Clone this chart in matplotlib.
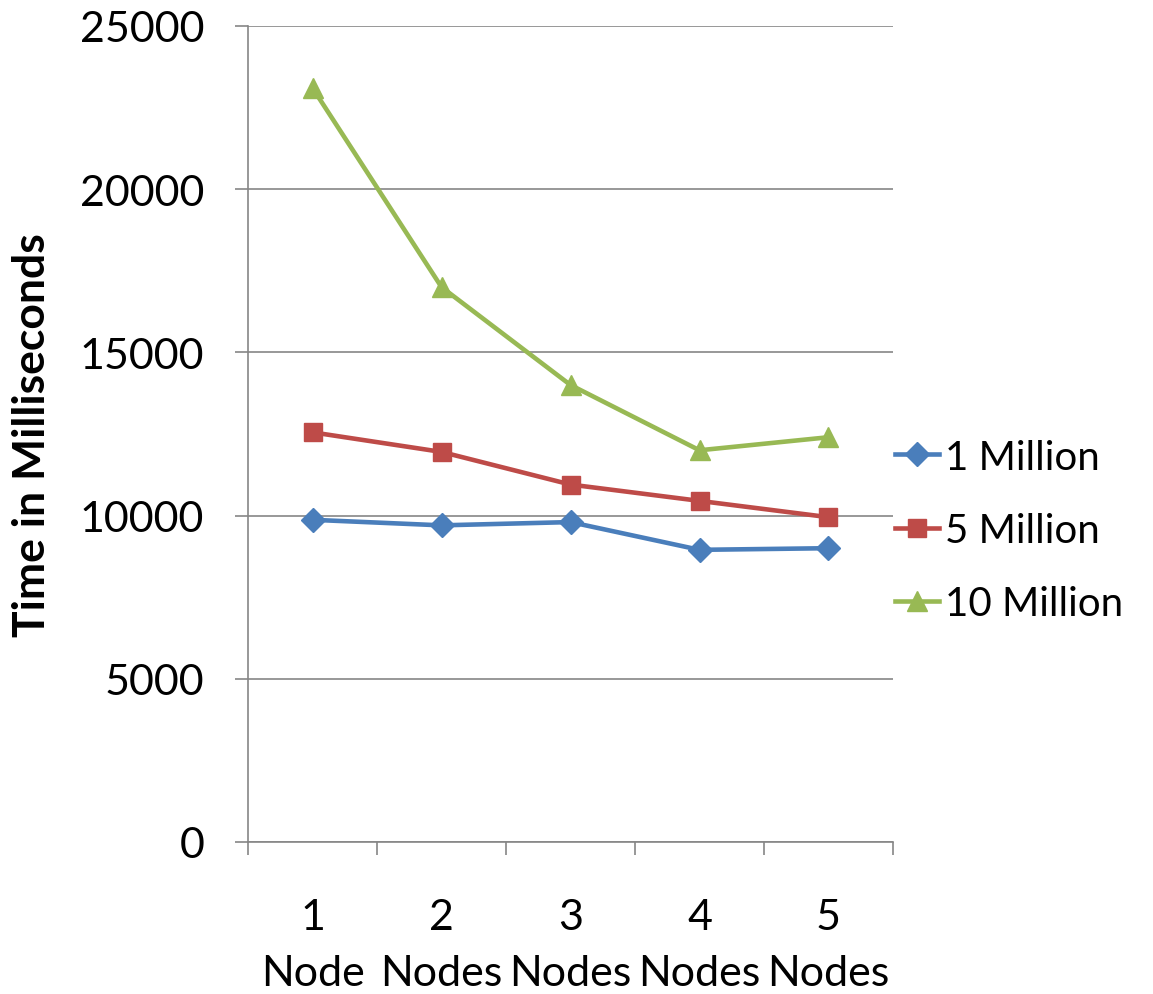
import numpy as np
import matplotlib
matplotlib.use("Agg")
import matplotlib.pyplot as plt

plt.rcParams['font.family'] = ['Lato', 'DejaVu Sans']

# --- data ---
categories = ["1\nNode", "2\nNodes", "3\nNodes", "4\nNodes", "5\nNodes"]
one_million = [9870, 9700, 9800, 8950, 9000]
five_million = [12550, 11950, 10950, 10450, 9950]
ten_million = [23100, 17000, 14000, 12000, 12400]

grey = "#868686"

fig = plt.figure(figsize=(11.53, 9.95), dpi=100)
ax = fig.add_axes([0.2151, 0.1528, 0.5594, 0.8201])

x = np.arange(len(categories))
ax.plot(x, one_million, color="#4A7EBB", lw=3.3, marker="D", ms=12, label="1 Million")
ax.plot(x, five_million, color="#BE4B48", lw=3.3, marker="s", ms=13, label="5 Million")
ax.plot(x, ten_million, color="#98B954", lw=3.3, marker="^", ms=14, label="10 Million")

ax.set_xlim(-0.5, len(categories) - 0.5)
ax.set_ylim(0, 25000)
ax.set_yticks(np.arange(0, 25001, 5000))
ax.yaxis.grid(True, color=grey, lw=1.2)
ax.set_axisbelow(True)

ax.set_xticks(x)
ax.set_xticklabels(categories, fontsize=31, linespacing=1.6)
ax.set_xticks(np.arange(-0.5, len(categories)), minor=True)
ax.tick_params(axis="x", which="major", length=0, pad=40)
ax.tick_params(axis="x", which="minor", length=9, width=1.2, color=grey)
ax.tick_params(axis="y", length=9.5, width=1.2, color=grey, labelsize=31, pad=22)

for s in ["top", "right"]:
    ax.spines[s].set_visible(False)
for s in ["left", "bottom"]:
    ax.spines[s].set_color(grey)
    ax.spines[s].set_linewidth(1.2)

ax.set_ylabel("Time in Milliseconds", fontsize=32, fontweight="bold", labelpad=20)

ax.legend(loc="center left", bbox_to_anchor=(1.003, 0.382), frameon=False,
          fontsize=29, handlelength=1.1, handletextpad=0.15, labelspacing=0.9,
          borderaxespad=0, borderpad=0)

fig.savefig("out.png", dpi=100)
